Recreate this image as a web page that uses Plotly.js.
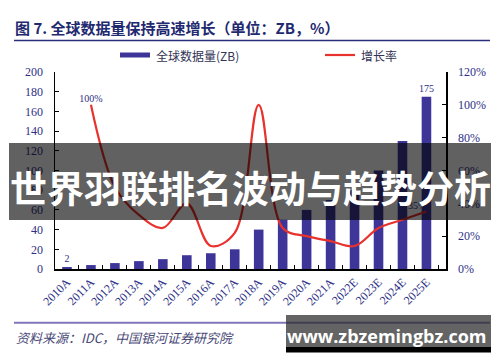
<!DOCTYPE html>
<html>
<head>
<meta charset="utf-8">
<script src="https://cdn.plot.ly/plotly-3.0.1.min.js"></script>
<style>
html,body{margin:0;padding:0;background:#fff;}
#chart{width:500px;height:362px;}
</style>
</head>
<body>
<div id="chart"></div>
<script>
// ---- data ----
const years = ["2010A","2011A","2012A","2013A","2014A","2015A","2016A","2017A","2018A","2019A","2020A","2021A","2022E","2023E","2024E","2025E"];
const dataZB = [2,4,6,8,10,14,16,20,40,50,60,70,80,100,130,175];
const growthYears = ["2011A","2012A","2013A","2014A","2015A","2016A","2017A","2018A","2019A","2020A","2021A","2022E","2023E","2024E","2025E"];
const growthRate = [1.00,0.50,0.33,0.25,0.40,0.14,0.22,1.00,0.25,0.20,0.17,0.14,0.25,0.30,0.35];
const barLabels = ["2","","","","","","","","","","","","","","","175"];
const lineLabels = ["100%","","","","","","","","","","","","","","35%"];
const titleText = "图 7. 全球数据量保持高速增长（单位：ZB，%）";
const legendBar = "全球数据量(ZB)";
const legendLine = "增长率";
const sourceText = "资料来源：IDC，中国银河证券研究院";
const overlayText = "世界羽联排名波动与趋势分析";
const watermarkText = "www.zbzemingbz.com";

// ---- geometry helpers (pixel -> paper) ----
const L = 55, R = 54, T = 72, B = 93, WID = 500, HEI = 362;
const PW = WID - L - R, PH = HEI - T - B;
const px = x => (x - L) / PW;
const py = y => (HEI - B - y) / PH;

const navy = "#2e2f86";
const serif = "Liberation Serif, Times New Roman, serif";
const cjk = "Noto Sans CJK SC, sans-serif";

const traces = [
  {
    type: "bar", x: years, y: dataZB, name: legendBar,
    marker: {color: "#3d3598"}, width: 0.4,
    text: barLabels, textposition: "outside", cliponaxis: false, constraintext: "none",
    textfont: {family: serif, size: 10, color: navy},
    hoverinfo: "skip"
  },
  {
    type: "scatter", mode: "lines+text", x: growthYears, y: growthRate, yaxis: "y2",
    name: legendLine,
    line: {color: "#e8322d", width: 2.2, shape: "spline", smoothing: 1},
    text: lineLabels,
    textposition: ["top center","top center","top center","top center","top center","top center","top center","top center","top center","top center","top center","top center","top center","top center","top left"],
    textfont: {family: serif, size: 10, color: navy},
    cliponaxis: false, hoverinfo: "skip"
  }
];

const layout = {
  width: WID, height: HEI,
  margin: {l: L, r: R, t: T, b: B},
  paper_bgcolor: "#fff", plot_bgcolor: "#fff",
  showlegend: false,
  title: {
    text: "<b>" + titleText + "</b>",
    x: 15 / WID, xanchor: "left", xref: "container",
    y: 1 - 28.5 / HEI, yanchor: "middle", yref: "container",
    font: {family: cjk, size: 15, color: "#1f2a70"}
  },
  xaxis: {
    type: "category", showline: true, linecolor: "#000", linewidth: 1.5,
    ticks: "inside", tickson: "boundaries", ticklen: 4, tickcolor: "#000",
    tickangle: -45, showgrid: false, zeroline: false,
    tickfont: {family: serif, size: 12, color: navy}
  },
  yaxis: {
    range: [0, 200], dtick: 20, showline: true, linecolor: "#000", linewidth: 1.5,
    ticks: "inside", ticklen: 4, tickcolor: "#000", showgrid: false, zeroline: false,
    ticklabelstandoff: 8,
    tickfont: {family: serif, size: 12, color: navy}
  },
  yaxis2: {
    range: [0, 1.2], dtick: 0.2, tickformat: ".0%", overlaying: "y", side: "right",
    showline: true, linecolor: "#000", linewidth: 1.5,
    ticks: "inside", ticklen: 4, tickcolor: "#000", showgrid: false, zeroline: false,
    ticklabelstandoff: 8,
    tickfont: {family: serif, size: 12, color: navy}
  },
  shapes: [
    {type: "line", xref: "paper", yref: "paper", x0: px(14), x1: px(490), y0: py(40.5), y1: py(40.5),
     line: {color: "#2b2e78", width: 1.5}},
    {type: "rect", xref: "paper", yref: "paper", x0: px(120), x1: px(150), y0: py(52.5), y1: py(57.5),
     fillcolor: "#3d3598", line: {width: 0}},
    {type: "line", xref: "paper", yref: "paper", x0: px(325), x1: px(355), y0: py(55), y1: py(55),
     line: {color: "#e8322d", width: 2.2}},
    {type: "line", xref: "paper", yref: "paper", x0: px(14), x1: px(490), y0: py(322.7), y1: py(322.7),
     line: {color: "#7f77ba", width: 2}},
    {type: "rect", xref: "paper", yref: "paper", layer: "above", x0: px(9), x1: px(491), y0: py(220), y1: py(143),
     fillcolor: "rgba(0,0,0,0.62)", line: {width: 0}},
    {type: "rect", xref: "paper", yref: "paper", layer: "above", x0: px(286), x1: px(491), y0: py(347), y1: py(315),
     fillcolor: "rgba(40,40,40,0.72)", line: {width: 0}},
    {type: "rect", xref: "paper", yref: "paper", layer: "above", x0: px(286), x1: px(491), y0: py(352.5), y1: py(347),
     fillcolor: "#000", line: {width: 0}}
  ],
  annotations: [
    {text: legendBar, xref: "paper", yref: "paper", x: px(154), y: py(55), xanchor: "left", yanchor: "middle",
     showarrow: false, font: {family: cjk, size: 12, color: "#333355"}},
    {text: legendLine, xref: "paper", yref: "paper", x: px(359), y: py(55), xanchor: "left", yanchor: "middle",
     showarrow: false, font: {family: cjk, size: 12, color: "#333355"}},
    {text: "<i>" + sourceText + "</i>", xref: "paper", yref: "paper", x: px(14), y: py(337), xanchor: "left", yanchor: "middle",
     showarrow: false, font: {family: cjk, size: 13, color: "#4a4a78"}},
    {text: "<b>" + overlayText + "</b>", xref: "paper", yref: "paper", x: px(250), y: py(186.5), xanchor: "center", yanchor: "middle",
     showarrow: false, font: {family: cjk, size: 37, color: "#ffffff"}},
    {text: "<b>" + watermarkText + "</b>", xref: "paper", yref: "paper", x: px(387), y: py(336), xanchor: "center", yanchor: "middle",
     showarrow: false, font: {family: "Open Sans, sans-serif", size: 18, color: "#ffffff"}}
  ]
};

Plotly.newPlot("chart", traces, layout, {staticPlot: true, displayModeBar: false});
</script>
</body>
</html>
